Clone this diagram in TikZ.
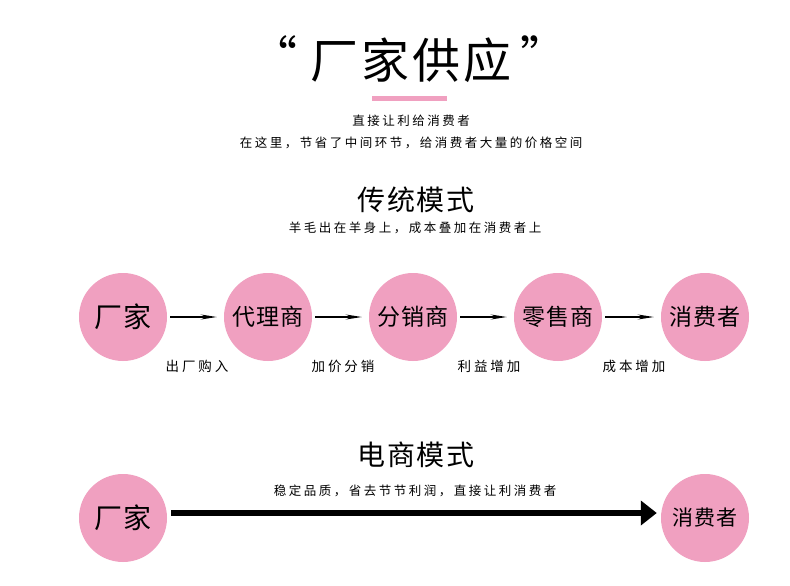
\documentclass[tikz,border=0pt]{standalone}
\usepackage{fontspec}
\newfontfamily\cjk{Noto Sans CJK SC}
\newfontfamily\cjksmall{Noto Sans CJK SC}[LetterSpace=20]
\newfontfamily\cjklab{Noto Sans CJK SC}[LetterSpace=22]
\newfontfamily\cjkhead{Noto Sans CJK SC}[LetterSpace=5]
\newfontfamily\cjktitle{Noto Sans CJK SC}[LetterSpace=6]
\newfontfamily\cjkcirc{Noto Sans CJK SC}[LetterSpace=4]
\usetikzlibrary{arrows.meta}
\definecolor{pinkc}{RGB}{240,160,192}
\begin{document}
\begin{tikzpicture}[x=1pt,y=-1pt,
  every node/.style={font=\cjk, inner sep=0pt},
  circ/.style={circle, fill=pinkc, minimum size=88pt, font=\cjkcirc\fontsize{23}{23}\selectfont},
  bigtxt/.style={font=\cjkcirc\fontsize{28}{28}\selectfont},
  small/.style={font=\cjksmall\fontsize{12.5}{12.5}\selectfont},
  lab/.style={font=\cjklab\fontsize{13.5}{13.5}\selectfont},
  head/.style={font=\cjkhead\fontsize{28}{28}\selectfont},
  thinarrow/.style={draw=black, line width=1.6pt, -{Stealth[length=16pt,width=5pt]}},
  thickarrow/.style={draw=black, line width=6pt, -{Triangle[length=16pt,width=24pt]}}
]
\useasboundingbox (0,0) rectangle (790,586);
\fill[white] (0,0) rectangle (790,586);
\node[font=\cjk\fontsize{46}{46}\selectfont, anchor=east] (ql) at (298,55) {“};
\node[font=\cjktitle\fontsize{48}{48}\selectfont] (title) at (411,60) {厂家供应};
\node[font=\cjk\fontsize{46}{46}\selectfont, anchor=west] (qr) at (520,55) {”};
\fill[pinkc] (372,96) rectangle (447,101);
\node[small] (l1) at (411,121) {直接让利给消费者};
\node[small] (l2) at (411,143) {在这里，节省了中间环节，给消费者大量的价格空间};
\node[head] (h1) at (416,200) {传统模式};
\node[small] (s1) at (415,228) {羊毛出在羊身上，成本叠加在消费者上};
\node[circ, bigtxt] (c1) at (123,317) {厂家};
\node[circ] (c2) at (268,317) {代理商};
\node[circ] (c3) at (413,317) {分销商};
\node[circ] (c4) at (558,317) {零售商};
\node[circ] (c5) at (705,317) {消费者};
\foreach \a/\b in {c1/c2,c2/c3,c3/c4,c4/c5}{
  \draw[thinarrow, shorten <=3pt, shorten >=7pt] (\a.east) -- (\b.west);
}
\node[lab] (a1) at (197,366) {出厂购入};
\node[lab] (a2) at (343,366) {加价分销};
\node[lab] (a3) at (489,366) {利益增加};
\node[lab] (a4) at (634,366) {成本增加};
\node[head] (h2) at (416,455) {电商模式};
\node[small] (s2) at (415,491) {稳定品质，省去节节利润，直接让利消费者};
\node[circ, bigtxt] (e1) at (123,518) {厂家};
\node[circ, font=\cjkcirc\fontsize{21}{21}\selectfont] (e2) at (705,518) {消费者};
\draw[thickarrow, shorten <=4pt, shorten >=4pt] ([yshift=5pt]e1.east) -- ([yshift=5pt]e2.west);
\end{tikzpicture}
\end{document}
